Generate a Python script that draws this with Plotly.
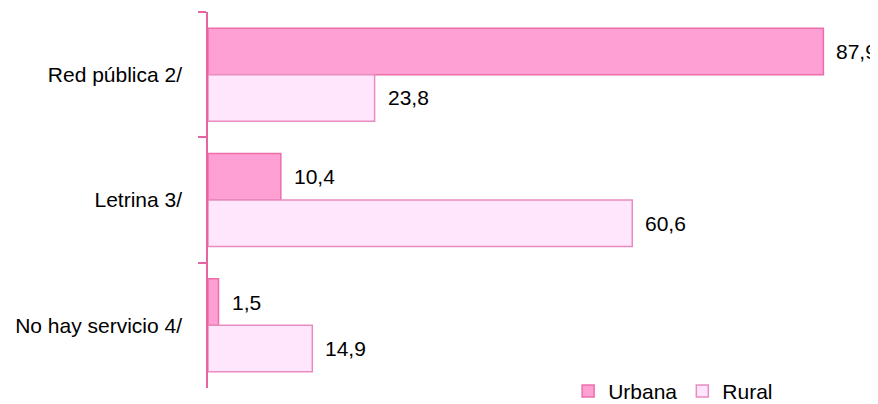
import plotly.graph_objects as go

categories = ["Red pública 2/", "Letrina 3/", "No hay servicio 4/"]
urbana = [87.9, 10.4, 1.5]
rural = [23.8, 60.6, 14.9]
series_names = ["Urbana", "Rural"]

def fmt(v):
    return f"{v:.1f}".replace(".", ",")

FS = 21

fig = go.Figure()
fig.add_trace(go.Bar(
    name=series_names[0], y=categories, x=urbana, orientation="h",
    marker=dict(color="rgb(255,160,213)", line=dict(color="rgb(238,110,170)", width=1.5)),
    hoverinfo="skip",
))
fig.add_trace(go.Bar(
    name=series_names[1], y=categories, x=rural, orientation="h",
    marker=dict(color="rgb(255,230,252)", line=dict(color="rgb(232,140,192)", width=1.5)),
    hoverinfo="skip",
))

# data labels
for i, c in enumerate(categories):
    for vals, off in ((urbana, -0.186), (rural, 0.186)):
        fig.add_annotation(
            x=vals[i], y=i + off, xref="x", yref="y",
            text=fmt(vals[i]), showarrow=False, xanchor="left", yanchor="middle",
            xshift=11, font=dict(size=FS, color="black"),
        )

# page body has an 8px default margin, so the figure is 8px smaller on each axis
fig.update_layout(
    width=870, height=396,
    margin=dict(l=200, r=0, t=4, b=16, autoexpand=False),
    paper_bgcolor="white", plot_bgcolor="white",
    barmode="group", bargap=0.258, bargroupgap=0,
    font=dict(family="Arial, Liberation Sans, sans-serif", size=FS, color="black"),
    showlegend=True,
    legend=dict(orientation="h", x=0.5375, xanchor="left", y=-0.009, yanchor="middle",
                font=dict(size=FS), bgcolor="rgba(0,0,0,0)", traceorder="normal",
                itemwidth=30, tracegroupgap=0),
    xaxis=dict(range=[0, 95.7], visible=False, showgrid=False, zeroline=False),
    yaxis=dict(
        autorange="reversed", automargin=False, showline=True,
        linecolor="rgb(232,100,160)", linewidth=1.5,
        ticks="outside", ticklen=8, tickcolor="rgb(232,100,160)", tickwidth=1.5,
        tickson="boundaries", showgrid=False, ticklabelstandoff=20,
        tickfont=dict(size=FS, color="black"),
    ),
)

fig.write_html("out.html")
